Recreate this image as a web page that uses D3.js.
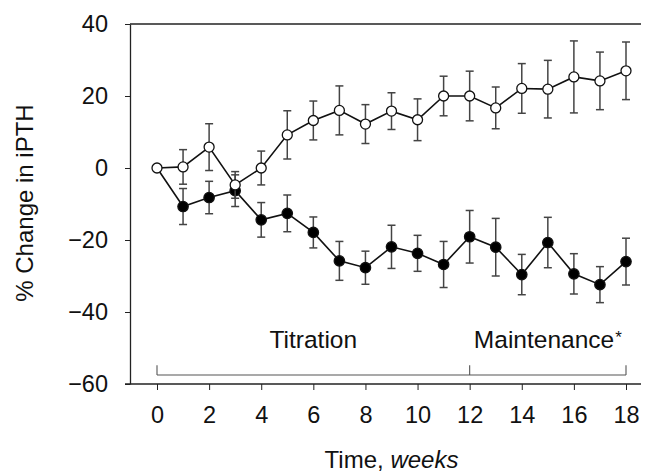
<!DOCTYPE html>
<html>
<head>
<meta charset="utf-8">
<script src="https://cdn.jsdelivr.net/npm/d3@7"></script>
<style>
  body { margin: 0; background: #fff; }
  text { font-family: "Liberation Sans", Arial, Helvetica, sans-serif; fill: #111; }
</style>
</head>
<body>
<script>
// data
let weeks = d3.range(0, 19);
let openMean = [0, 0.3, 5.8, -4.7, 0, 9.2, 13.2, 16.0, 12.2, 15.8, 13.4, 20.0, 20.0, 16.7, 22.1, 21.9, 25.3, 24.2, 27.0];
let openErr  = [0, 4.8, 6.5, 3.7, 4.7, 6.7, 5.4, 6.8, 5.4, 5.1, 5.8, 5.5, 6.9, 5.8, 6.9, 8.0, 10.0, 8.0, 8.0];
let filledMean = [0, -10.7, -8.2, -6.3, -14.4, -12.6, -17.9, -25.8, -27.7, -21.9, -23.7, -26.8, -19.1, -22.0, -29.6, -20.7, -29.4, -32.4, -26.0];
let filledErr  = [0, 5.0, 4.5, 4.4, 4.8, 5.1, 4.3, 5.4, 4.6, 6.0, 5.0, 6.4, 7.3, 8.0, 5.6, 7.0, 5.6, 5.0, 6.5];
let xTicks = [0, 2, 4, 6, 8, 10, 12, 14, 16, 18];
let yTicks = [-60, -40, -20, 0, 20, 40];
let phases = [
  {label: "Titration", start: 0, end: 12, star: false},
  {label: "Maintenance", start: 12, end: 18, star: true}
];

let margin = {top: 24, right: 8, bottom: 92, left: 130};
let width = 649 - margin.left - margin.right;
let height = 476 - margin.top - margin.bottom;

let x = d3.scaleLinear().domain([0, 18]).range([27, 496]);
let y = d3.scaleLinear().domain([-60, 40]).range([height, 0]);

let svg = d3.select("body").append("svg")
    .attr("width", 649)
    .attr("height", 476)
  .append("g")
    .attr("transform", "translate(" + margin.left + "," + margin.top + ")");

// frame: top line
svg.append("line")
  .attr("x1", 0).attr("x2", width)
  .attr("y1", 0).attr("y2", 0)
  .attr("stroke", "#222").attr("stroke-width", 1.3);

// bottom line (starts at the -60 tick)
svg.append("line")
  .attr("x1", -5).attr("x2", width)
  .attr("y1", height).attr("y2", height)
  .attr("stroke", "#222").attr("stroke-width", 1.3);

// y axis
let yAxis = svg.append("g")
  .call(d3.axisLeft(y).tickValues(yTicks).tickSize(5).tickSizeOuter(0).tickPadding(17)
    .tickFormat(d => d < 0 ? "\u2212" + Math.abs(d) : d));
yAxis.select(".domain").attr("stroke", "#222").attr("stroke-width", 1.3);
yAxis.selectAll(".tick line").attr("stroke", "#222");
yAxis.selectAll("text").style("font-size", "23.5px").attr("fill", "#111");

// x axis
let xAxis = svg.append("g")
  .attr("transform", "translate(0," + height + ")")
  .call(d3.axisBottom(x).tickValues(xTicks).tickSize(6).tickPadding(16));
xAxis.select(".domain").remove();
xAxis.selectAll(".tick line").attr("stroke", "#222");
xAxis.selectAll("text").style("font-size", "23.5px").attr("fill", "#111");

// axis titles
svg.append("text")
  .attr("transform", "translate(" + (33 - margin.left) + "," + (height / 2 - 1) + ") rotate(-90)")
  .attr("text-anchor", "middle")
  .style("font-size", "24px")
  .text("% Change in iPTH");

let xt = svg.append("text")
  .attr("x", (x(0) + x(18)) / 2)
  .attr("y", 468 - margin.top)
  .attr("text-anchor", "middle")
  .style("font-size", "24px");
xt.append("tspan").text("Time, ");
xt.append("tspan").style("font-style", "italic").text("weeks");

// phase bracket
let bracketY = y(-57.5);
let bracketTop = y(-54.8);
svg.append("line")
  .attr("x1", x(0)).attr("x2", x(18))
  .attr("y1", bracketY).attr("y2", bracketY)
  .attr("stroke", "#555").attr("stroke-width", 1.1);
svg.selectAll(".bracket-tick")
  .data([0, 12, 18])
  .enter().append("line")
  .attr("class", "bracket-tick")
  .attr("x1", d => x(d)).attr("x2", d => x(d))
  .attr("y1", bracketY).attr("y2", bracketTop)
  .attr("stroke", "#555").attr("stroke-width", 1.1);

phases.forEach(function(p) {
  let t = svg.append("text")
    .attr("x", x((p.start + p.end) / 2))
    .attr("y", y(-50))
    .attr("text-anchor", "middle")
    .style("font-size", "24.5px");
  t.append("tspan").text(p.label);
  if (p.star) {
    t.append("tspan").attr("dx", "1").attr("dy", "-0.3em").style("font-size", "17px").text("*");
  }
});

// series
function drawSeries(means, errs, fill, skipFirst) {
  let pts = weeks.map((w, i) => ({w: w, v: means[i], e: errs[i]}));
  let bars = pts.filter(d => d.e > 0);

  let eb = svg.append("g").attr("stroke", "#444").attr("stroke-width", 1.5);
  eb.selectAll(".stem").data(bars).enter().append("line")
    .attr("x1", d => x(d.w)).attr("x2", d => x(d.w))
    .attr("y1", d => y(d.v + d.e)).attr("y2", d => y(d.v - d.e));
  eb.selectAll(".capt").data(bars).enter().append("line")
    .attr("x1", d => x(d.w) - 4).attr("x2", d => x(d.w) + 4)
    .attr("y1", d => y(d.v + d.e)).attr("y2", d => y(d.v + d.e));
  eb.selectAll(".capb").data(bars).enter().append("line")
    .attr("x1", d => x(d.w) - 4).attr("x2", d => x(d.w) + 4)
    .attr("y1", d => y(d.v - d.e)).attr("y2", d => y(d.v - d.e));

  let line = d3.line()
    .x(d => x(d.w))
    .y(d => y(d.v));
  svg.append("path")
    .datum(pts)
    .attr("d", line)
    .attr("fill", "none")
    .attr("stroke", "#111")
    .attr("stroke-width", 1.6);

  svg.append("g").selectAll("circle")
    .data(skipFirst ? pts.slice(1) : pts)
    .enter().append("circle")
    .attr("cx", d => x(d.w))
    .attr("cy", d => y(d.v))
    .attr("r", fill ? 5.2 : 5)
    .attr("fill", fill ? "#000" : "#fff")
    .attr("stroke", "#111")
    .attr("stroke-width", 1.3);
}

drawSeries(filledMean, filledErr, true, true);
drawSeries(openMean, openErr, false, false);
</script>
</body>
</html>
